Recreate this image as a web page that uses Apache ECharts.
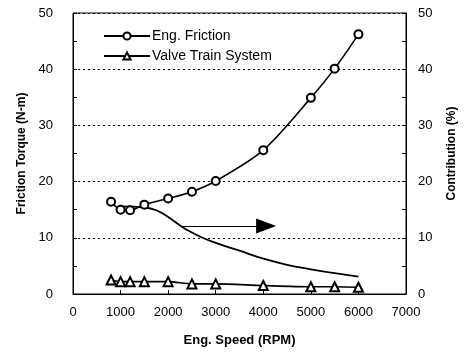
<!DOCTYPE html>
<html>
<head>
<meta charset="utf-8">
<script src="https://cdn.jsdelivr.net/npm/echarts@6/dist/echarts.min.js"></script>
<style>
  html, body { margin: 0; padding: 0; background: #fff; }
  #chart { width: 466px; height: 357px; }
</style>
</head>
<body>
<div id="chart"></div>
<script>
// Engine speed (RPM) at each measurement
const speeds = [800, 1000, 1200, 1500, 2000, 2500, 3000, 4000, 5000, 5500, 6000];
// Total engine friction torque (N-m)
const engFriction = [16.4, 15.0, 14.9, 15.9, 17.0, 18.2, 20.1, 25.6, 34.9, 40.1, 46.2];
// Valve train system friction torque (N-m)
const valveTrain = [2.5, 2.2, 2.2, 2.2, 2.2, 1.8, 1.8, 1.5, 1.3, 1.3, 1.2];
// Valve train share of total friction (%), right axis
const contribSpeeds = [1000, 1500, 1750, 2000, 2200, 2400, 2700, 3000, 3500, 4000, 4500, 5000, 5500, 6000];
const contribution = [15.6, 15.4, 14.9, 13.7, 12.5, 11.4, 10.1, 9.1, 7.7, 6.3, 5.2, 4.4, 3.7, 3.1];
// Arrow pointing toward the right-hand axis (end coord is the arrowhead centre)
const arrowFrom = [2300, 12.1];
const arrowTo = [4060, 12.1];

const xTicks = { min: 0, max: 7000, interval: 1000 };
const yTicks = { min: 0, max: 50, interval: 10 };

const pair = (xs, ys) => xs.map((x, i) => [x, ys[i]]);

const labelFont = { color: '#000', fontFamily: 'Liberation Sans, Arial, sans-serif', fontSize: 13 };
const nameFont = { color: '#000', fontFamily: 'Liberation Sans, Arial, sans-serif', fontSize: 12, fontWeight: 'bold' };

const yAxisBase = {
  type: 'value',
  min: yTicks.min, max: yTicks.max, interval: yTicks.interval,
  nameLocation: 'middle',
  nameRotate: 90,
  nameTextStyle: nameFont,
  axisLine: { show: true, lineStyle: { color: '#000', width: 1 } },
  axisTick: { show: true, inside: true, length: 4, lineStyle: { color: '#000' } },
  minorTick: { show: true, splitNumber: 2, length: 4, lineStyle: { color: '#000' } },
  axisLabel: labelFont
};

const chart = echarts.init(document.getElementById('chart'), null, { renderer: 'canvas' });
chart.setOption({
  animation: false,
  backgroundColor: '#fff',
  grid: { left: 73, right: 59, top: 13, bottom: 63, show: true, borderColor: '#000', borderWidth: 1, backgroundColor: 'transparent' },
  legend: {
    data: ['Eng. Friction', 'Valve Train System'],
    orient: 'vertical',
    left: 98, top: 24,
    itemWidth: 46, itemHeight: 9, itemGap: 6,
    textStyle: { color: '#000', fontFamily: 'Liberation Sans, Arial, sans-serif', fontSize: 14, padding: [0, 0, 0, -3] }
  },
  xAxis: {
    type: 'value',
    min: xTicks.min, max: xTicks.max, interval: xTicks.interval,
    name: 'Eng. Speed (RPM)',
    nameLocation: 'middle',
    nameGap: 40,
    nameTextStyle: Object.assign({}, nameFont, { fontSize: 13 }),
    axisLine: { show: true, lineStyle: { color: '#000', width: 1 } },
    axisTick: { show: true, inside: true, length: 4, lineStyle: { color: '#000' } },
    splitLine: { show: false },
    axisLabel: Object.assign({}, labelFont, { margin: 12, formatter: v => String(v) })
  },
  yAxis: [
    Object.assign({}, yAxisBase, {
      position: 'left',
      name: 'Friction Torque (N-m)',
      nameGap: 44,
      axisLabel: Object.assign({}, labelFont, { margin: 20 }),
      splitLine: { show: true, lineStyle: { color: '#000', type: [2, 3], width: 1 } }
    }),
    Object.assign({}, yAxisBase, {
      position: 'right',
      name: 'Contribution (%)',
      nameGap: 40,
      axisLabel: Object.assign({}, labelFont, { margin: 12 }),
      splitLine: { show: false }
    })
  ],
  series: [
    {
      name: 'Eng. Friction',
      type: 'line',
      yAxisIndex: 0,
      data: pair(speeds, engFriction),
      smooth: 0.3,
      symbol: 'emptyCircle',
      symbolSize: 8,
      itemStyle: { color: '#000', borderColor: '#000', borderWidth: 1.5 },
      lineStyle: { color: '#000', width: 1.6 }
    },
    {
      name: 'Valve Train System',
      type: 'line',
      yAxisIndex: 0,
      data: pair(speeds, valveTrain),
      smooth: 0.3,
      symbol: 'emptyTriangle',
      symbolSize: 9,
      itemStyle: { color: '#000', borderColor: '#000', borderWidth: 1.5 },
      lineStyle: { color: '#000', width: 1.6 }
    },
    {
      name: 'Contribution',
      type: 'line',
      yAxisIndex: 1,
      data: pair(contribSpeeds, contribution),
      smooth: 0.5,
      showSymbol: false,
      lineStyle: { color: '#000', width: 1.8 },
      markLine: {
        silent: true,
        symbol: ['none', 'triangle'],
        symbolSize: [15, 20],
        label: { show: false },
        lineStyle: { color: '#000', width: 1, type: 'solid' },
        data: [[{ coord: arrowFrom }, { coord: arrowTo }]]
      }
    }
  ]
});
</script>
</body>
</html>
